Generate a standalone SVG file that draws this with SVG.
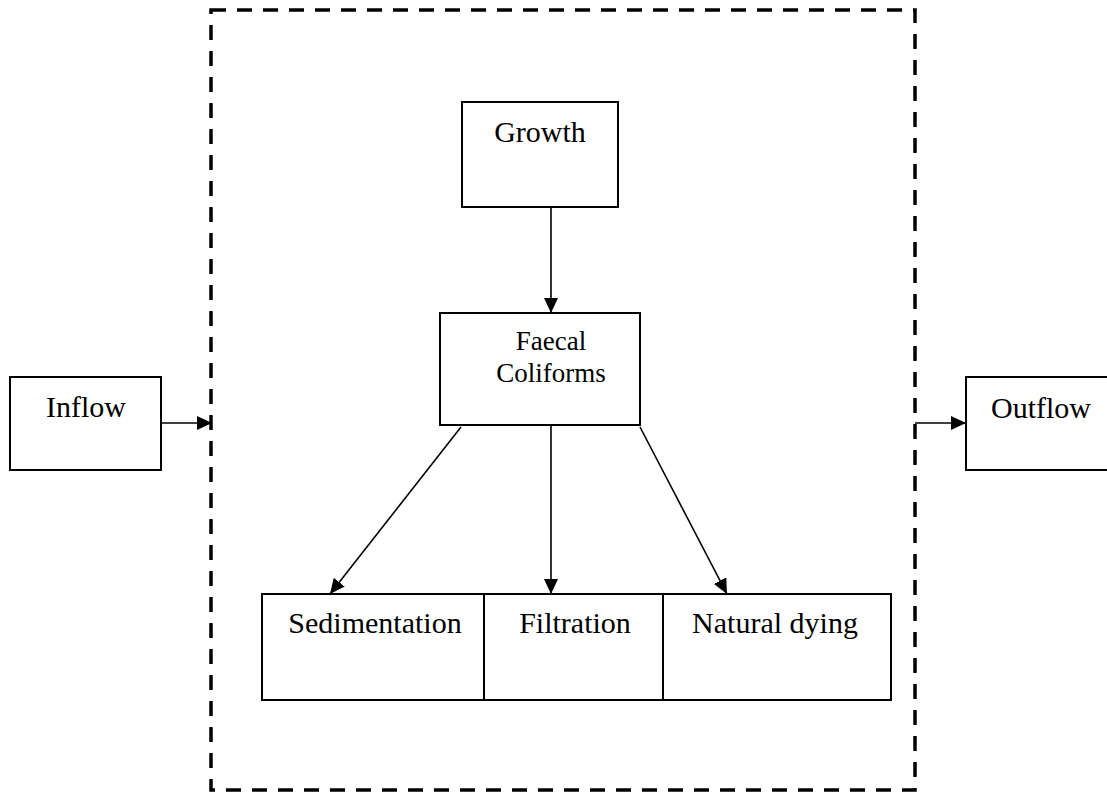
<svg xmlns="http://www.w3.org/2000/svg" width="1107" height="793" viewBox="0 0 1107 793">
<style>
.box{fill:#fff;stroke:#000;stroke-width:2}
.t{font-family:"Liberation Serif","Times New Roman",serif;font-size:30px;fill:#000;text-anchor:middle}
.s{font-size:27px}
.c{stroke:#000;stroke-width:1.6;fill:none;marker-end:url(#ah)}
</style>
<defs>
<marker id="ah" viewBox="0 0 15 14" refX="15" refY="7" markerWidth="15" markerHeight="14" markerUnits="userSpaceOnUse" orient="auto"><path d="M0,0L15,7L0,14z" fill="#000"/></marker>
</defs>
<rect id="boundary" x="211" y="10" width="704" height="780" fill="none" stroke="#000" stroke-width="3.5" stroke-dasharray="15,11"/>
<g id="inflow"><rect class="box" x="10" y="377" width="151" height="93"/><text class="t" x="86" y="417">Inflow</text></g>
<g id="outflow"><rect class="box" x="966" y="377" width="150" height="93"/><text class="t" x="1041" y="418">Outflow</text></g>
<g id="growth"><rect class="box" x="462" y="102" width="156" height="105"/><text class="t" x="540" y="142">Growth</text></g>
<g id="faecal"><rect class="box" x="440" y="313" width="200" height="112"/><text class="t s" x="551" y="350">Faecal</text><text class="t s" x="551" y="382">Coliforms</text></g>
<g id="sedimentation"><rect class="box" x="262" y="594" width="222" height="106"/><text class="t" x="375" y="633">Sedimentation</text></g>
<g id="filtration"><rect class="box" x="484" y="594" width="179" height="106"/><text class="t" x="575" y="633">Filtration</text></g>
<g id="natural"><rect class="box" x="663" y="594" width="228" height="106"/><text class="t" x="775" y="633">Natural dying</text></g>
<g id="connectors">
<line class="c" x1="161" y1="423" x2="212" y2="423"/>
<line class="c" x1="915" y1="423" x2="966" y2="423"/>
<line class="c" x1="551" y1="207" x2="551" y2="313"/>
<line class="c" x1="461" y1="427" x2="330" y2="594"/>
<line class="c" x1="551" y1="425" x2="551" y2="594"/>
<line class="c" x1="640" y1="427" x2="727" y2="594"/>
</g>
</svg>
